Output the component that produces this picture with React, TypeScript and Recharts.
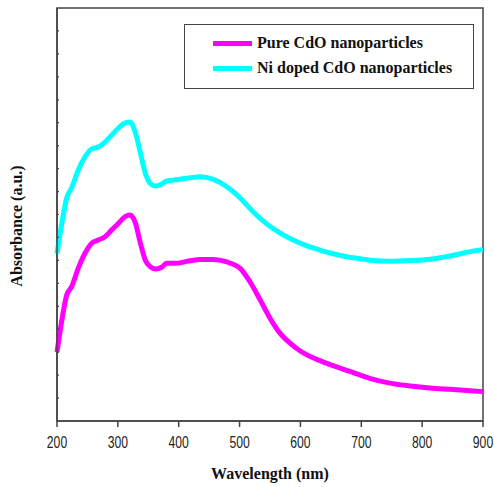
import React from "react";
import { LineChart, Line, XAxis, YAxis, Legend, ReferenceArea } from "recharts";

const xTicks = [200, 300, 400, 500, 600, 700, 800, 900];
const yTicks = [1, 2, 3, 4, 5, 6, 7, 8, 9, 10, 11, 12, 13, 14, 15, 16, 17];
const seriesNames = ["Pure CdO nanoparticles", "Ni doped CdO nanoparticles"];

const pureWavelength = [200, 208, 216, 224, 235, 246, 257, 268, 279, 290, 301, 312, 320, 329, 337, 345, 353, 362, 372, 380, 394, 416, 435, 457, 479, 501, 517, 534, 550, 566, 583, 599, 616, 632, 649, 665, 681, 714, 747, 780, 813, 846, 879, 900];
const pureAbsorbance = [3.0, 4.4, 5.49, 5.85, 6.66, 7.31, 7.75, 7.89, 8.03, 8.33, 8.62, 8.91, 8.98, 8.62, 7.75, 7.02, 6.73, 6.63, 6.7, 6.87, 6.87, 6.97, 7.04, 7.04, 6.93, 6.65, 6.07, 5.27, 4.48, 3.84, 3.39, 3.06, 2.81, 2.63, 2.46, 2.31, 2.16, 1.86, 1.65, 1.53, 1.44, 1.38, 1.32, 1.28];

const niWavelength = [200, 208, 216, 224, 235, 246, 257, 268, 279, 290, 301, 312, 320, 329, 337, 345, 353, 362, 372, 380, 394, 416, 435, 457, 479, 501, 523, 545, 566, 588, 610, 632, 654, 676, 698, 714, 747, 780, 813, 846, 879, 900];
const niAbsorbance = [7.3, 8.63, 9.72, 10.16, 10.94, 11.51, 11.86, 11.94, 12.16, 12.47, 12.77, 12.99, 13.03, 12.55, 11.68, 10.81, 10.37, 10.24, 10.33, 10.46, 10.51, 10.59, 10.64, 10.53, 10.21, 9.72, 9.1, 8.58, 8.2, 7.89, 7.64, 7.45, 7.29, 7.16, 7.07, 7.01, 6.96, 6.99, 7.05, 7.19, 7.38, 7.48];

const pureData = pureWavelength.map((w, i) => ({ wavelength: w, value: pureAbsorbance[i] }));
const niData = niWavelength.map((w, i) => ({ wavelength: w, value: niAbsorbance[i] }));

const serif = '"Liberation Serif", "Times New Roman", serif';
const axisColor = "#444";
const plotLeft = 57;

const YTick = (props: any) => {
  const { y } = props;
  return <line x1={plotLeft} x2={plotLeft + 2} y1={y} y2={y} stroke={axisColor} strokeWidth={1.2} />;
};

const XTick = (props: any) => {
  const { x, payload } = props;
  return (
    <text
      transform={`translate(${x},448) scale(0.76,1)`}
      textAnchor="middle"
      fontFamily='"Liberation Sans", Arial, sans-serif'
      fontSize={16}
      fill="#222"
    >
      {payload.value}
    </text>
  );
};

const renderLegend = (props: any) => {
  const payload = [...(props.payload || [])].sort(
    (a: any, b: any) => seriesNames.indexOf(a.value) - seriesNames.indexOf(b.value)
  );
  return (
    <div
      style={{
        position: "relative",
        width: 290,
        height: 65,
        border: `1px solid ${axisColor}`,
        boxSizing: "border-box",
        background: "#fff",
      }}
    >
      {payload.map((p: any, i: number) => (
        <div
          key={i}
          style={{
            position: "absolute",
            left: 28,
            top: 8 + i * 25,
            height: 20,
            display: "flex",
            alignItems: "center",
            whiteSpace: "nowrap",
          }}
        >
          <div style={{ width: 39, height: 5, background: p.color, marginRight: 5 }} />
          <span style={{ fontFamily: serif, fontWeight: "bold", fontSize: 16, color: "#111" }}>{p.value}</span>
        </div>
      ))}
    </div>
  );
};

export default function App() {
  return (
    <div style={{ position: "absolute", left: 0, top: 0, width: 494, height: 487, background: "#fff" }}>
      <LineChart width={494} height={487} margin={{ top: 8, right: 11, bottom: 0, left: 0 }}>
        <XAxis
          dataKey="wavelength"
          type="number"
          domain={[200, 900]}
          ticks={xTicks}
          interval={0}
          allowDuplicatedCategory={false}
          height={66}
          tickSize={6}
          tickMargin={9}
          stroke={axisColor}
          strokeWidth={1.5}
          tick={<XTick />}
          label={() => (
            <text x={270} y={479} textAnchor="middle" fontFamily={serif} fontWeight="bold" fontSize={16} fill="#111">
              Wavelength (nm)
            </text>
          )}
        />
        <YAxis
          type="number"
          domain={[0, 18]}
          ticks={yTicks}
          interval={0}
          width={57}
          tickLine={false}
          tick={<YTick />}
          stroke={axisColor}
          strokeWidth={1.5}
          label={() => (
            <text
              x={16}
              y={226}
              transform="rotate(-90,16,226)"
              textAnchor="middle"
              dominantBaseline="central"
              fontFamily={serif}
              fontWeight="bold"
              fontSize={16}
              fill="#111"
            >
              Absorbance (a.u.)
            </text>
          )}
        />
        <ReferenceArea x1={200} x2={900} y1={0} y2={18} fill="none" stroke={axisColor} strokeWidth={1.5} />
        <Line
          data={pureData}
          dataKey="value"
          name={seriesNames[0]}
          type="monotone"
          stroke="#ff00ff"
          strokeWidth={5}
          dot={false}
          isAnimationActive={false}
        />
        <Line
          data={niData}
          dataKey="value"
          name={seriesNames[1]}
          type="monotone"
          stroke="#00ffff"
          strokeWidth={5}
          dot={false}
          isAnimationActive={false}
        />
        <Legend
          layout="vertical"
          align="center"
          verticalAlign="middle"
          wrapperStyle={{ position: "absolute", left: 184, top: 24, width: 290, height: 65, margin: 0 }}
          content={renderLegend}
        />
      </LineChart>
    </div>
  );
}
